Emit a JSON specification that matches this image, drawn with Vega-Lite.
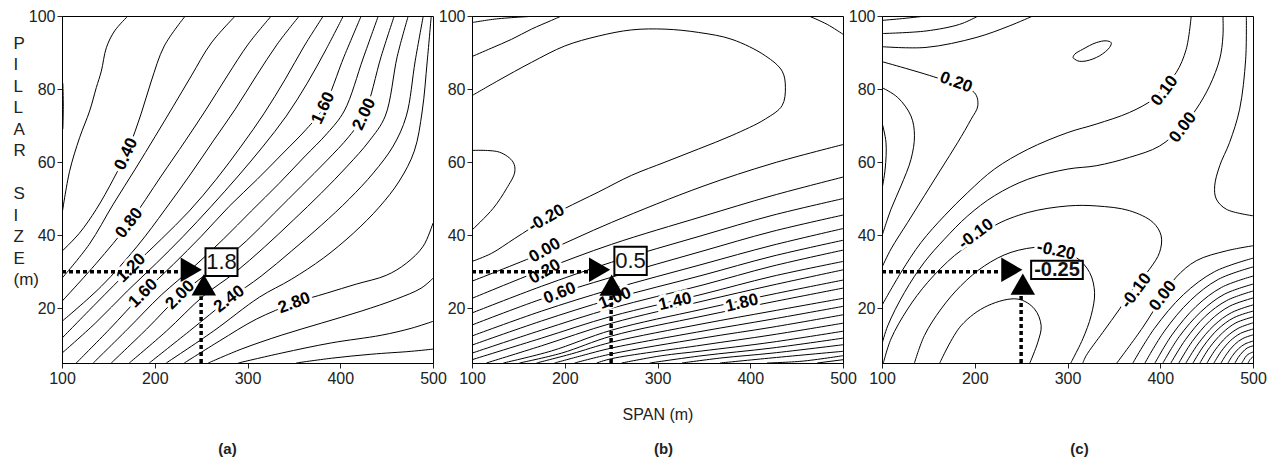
{
"$schema":"https://vega.github.io/schema/vega-lite/v6.json",
"background":"white",
"padding":{"left":12,"top":7,"right":4,"bottom":2},
"bounds":"flush",
"spacing":39,
"config":{
  "font":"Liberation Sans",
  "view":{"stroke":"#000","strokeWidth":1},
  "axis":{"labelFont":"Liberation Sans","labelFontSize":16,"labelColor":"#222","tickColor":"#222","tickSize":5,"domainColor":"#000","labelPadding":2,"grid":false,"labelFlush":false,"labelOverlap":false,"titleFont":"Liberation Sans","titleFontSize":16,"titleFontWeight":"normal","titleColor":"#222"},
  "title":{"font":"Liberation Sans","fontSize":15,"fontWeight":"bold","color":"#222"},
  "text":{"fontSize":17,"fontWeight":"bold"}
},
"datasets":{
"ca":[
{"c":"a0","v":0,"x":100.9,"y":81.6},{"c":"a0","v":0,"x":101.4,"y":75.3},{"c":"a0","v":0,"x":100.9,"y":69},
{"c":"a1","v":0.2,"x":171.1,"y":100},{"c":"a1","v":0.2,"x":156.7,"y":95.9},{"c":"a1","v":0.2,"x":147.8,"y":91.3},{"c":"a1","v":0.2,"x":142.4,"y":84.9},{"c":"a1","v":0.2,"x":137,"y":80.4},{"c":"a1","v":0.2,"x":129.8,"y":74},{"c":"a1","v":0.2,"x":119,"y":66.7},{"c":"a1","v":0.2,"x":108.2,"y":57.5},{"c":"a1","v":0.2,"x":100,"y":45.7},
{"c":"a2","v":0.4,"x":232.9,"y":100},{"c":"a2","v":0.4,"x":210.3,"y":91.8},{"c":"a2","v":0.4,"x":196.3,"y":82.2},{"c":"a2","v":0.4,"x":185.5,"y":73.4},{"c":"a2","v":0.4,"x":171.5,"y":63.6},{"c":"a2","v":0.4,"x":155.3,"y":55.3},{"c":"a2","v":0.4,"x":137,"y":47.1},{"c":"a2","v":0.4,"x":118.6,"y":40.5},{"c":"a2","v":0.4,"x":100,"y":35.6},
{"c":"a3","v":0.6,"x":286.8,"y":100},{"c":"a3","v":0.6,"x":260.9,"y":92.6},{"c":"a3","v":0.6,"x":239.4,"y":83.6},{"c":"a3","v":0.6,"x":220,"y":75.3},{"c":"a3","v":0.6,"x":200.6,"y":67.1},{"c":"a3","v":0.6,"x":179,"y":58.1},{"c":"a3","v":0.6,"x":155.3,"y":48.5},{"c":"a3","v":0.6,"x":129.4,"y":37.5},{"c":"a3","v":0.6,"x":100,"y":28.2},
{"c":"a4","v":0.8,"x":325.6,"y":100},{"c":"a4","v":0.8,"x":300.8,"y":92.3},{"c":"a4","v":0.8,"x":278.2,"y":83.6},{"c":"a4","v":0.8,"x":255.6,"y":74.5},{"c":"a4","v":0.8,"x":232.9,"y":65.8},{"c":"a4","v":0.8,"x":207,"y":56.2},{"c":"a4","v":0.8,"x":172.5,"y":43.3},{"c":"a4","v":0.8,"x":137,"y":32.3},{"c":"a4","v":0.8,"x":100,"y":21.9},
{"c":"a5","v":1.0,"x":355.8,"y":100},{"c":"a5","v":1.0,"x":332.1,"y":92.3},{"c":"a5","v":1.0,"x":309.5,"y":83.6},{"c":"a5","v":1.0,"x":286.8,"y":74.5},{"c":"a5","v":1.0,"x":263.1,"y":65.8},{"c":"a5","v":1.0,"x":239.4,"y":57},{"c":"a5","v":1.0,"x":211.4,"y":47.1},{"c":"a5","v":1.0,"x":181.2,"y":37},{"c":"a5","v":1.0,"x":142.4,"y":26},{"c":"a5","v":1.0,"x":100,"y":16.4},
{"c":"a6","v":1.2,"x":381.7,"y":100},{"c":"a6","v":1.2,"x":361.2,"y":91.8},{"c":"a6","v":1.2,"x":340.7,"y":82.7},{"c":"a6","v":1.2,"x":318.1,"y":73.4},{"c":"a6","v":1.2,"x":293.3,"y":64.4},{"c":"a6","v":1.2,"x":266.3,"y":55.3},{"c":"a6","v":1.2,"x":237.2,"y":46.6},{"c":"a6","v":1.2,"x":207,"y":38.9},{"c":"a6","v":1.2,"x":174.7,"y":31},{"c":"a6","v":1.2,"x":137,"y":21.4},{"c":"a6","v":1.2,"x":100,"y":11.8},
{"c":"a7","v":1.4,"x":403.3,"y":100},{"c":"a7","v":1.4,"x":385,"y":91},{"c":"a7","v":1.4,"x":364.4,"y":81.6},{"c":"a7","v":1.4,"x":341.8,"y":72.6},{"c":"a7","v":1.4,"x":317,"y":64.4},{"c":"a7","v":1.4,"x":290,"y":56.2},{"c":"a7","v":1.4,"x":260.9,"y":47.9},{"c":"a7","v":1.4,"x":230.8,"y":39.7},{"c":"a7","v":1.4,"x":201.7,"y":32.3},{"c":"a7","v":1.4,"x":170.4,"y":24.7},{"c":"a7","v":1.4,"x":135.9,"y":15.9},{"c":"a7","v":1.4,"x":100,"y":7.7},
{"c":"a8","v":1.6,"x":422.6,"y":100},{"c":"a8","v":1.6,"x":404.3,"y":89},{"c":"a8","v":1.6,"x":381.7,"y":74.8},{"c":"a8","v":1.6,"x":363.4,"y":69},{"c":"a8","v":1.6,"x":338.5,"y":62.5},{"c":"a8","v":1.6,"x":310.5,"y":55.3},{"c":"a8","v":1.6,"x":280.3,"y":47.9},{"c":"a8","v":1.6,"x":250.2,"y":39.7},{"c":"a8","v":1.6,"x":220,"y":32},{"c":"a8","v":1.6,"x":187.6,"y":24.1},{"c":"a8","v":1.6,"x":151,"y":14.2},{"c":"a8","v":1.6,"x":115.4,"y":5},
{"c":"a9","v":1.8,"x":441,"y":100},{"c":"a9","v":1.8,"x":424.8,"y":88.5},{"c":"a9","v":1.8,"x":404.3,"y":74},{"c":"a9","v":1.8,"x":386,"y":67.9},{"c":"a9","v":1.8,"x":361.2,"y":61.4},{"c":"a9","v":1.8,"x":334.2,"y":54.2},{"c":"a9","v":1.8,"x":304.1,"y":46.6},{"c":"a9","v":1.8,"x":273.9,"y":38.9},{"c":"a9","v":1.8,"x":241.5,"y":31.2},{"c":"a9","v":1.8,"x":207,"y":23.6},{"c":"a9","v":1.8,"x":170.4,"y":14.2},{"c":"a9","v":1.8,"x":133.7,"y":5},
{"c":"a10","v":2.0,"x":458.2,"y":100},{"c":"a10","v":2.0,"x":444.2,"y":89},{"c":"a10","v":2.0,"x":425.9,"y":73.1},{"c":"a10","v":2.0,"x":409.7,"y":67.1},{"c":"a10","v":2.0,"x":385,"y":60.3},{"c":"a10","v":2.0,"x":358,"y":53.4},{"c":"a10","v":2.0,"x":328.8,"y":46},{"c":"a10","v":2.0,"x":298.7,"y":38.4},{"c":"a10","v":2.0,"x":266.3,"y":31.5},{"c":"a10","v":2.0,"x":227.5,"y":23.6},{"c":"a10","v":2.0,"x":190.9,"y":14.2},{"c":"a10","v":2.0,"x":153.1,"y":5},
{"c":"a11","v":2.2,"x":473.3,"y":100},{"c":"a11","v":2.2,"x":461.5,"y":89},{"c":"a11","v":2.2,"x":448.5,"y":72.6},{"c":"a11","v":2.2,"x":431.3,"y":65.8},{"c":"a11","v":2.2,"x":407.6,"y":58.9},{"c":"a11","v":2.2,"x":379.5,"y":51.5},{"c":"a11","v":2.2,"x":349.3,"y":44.1},{"c":"a11","v":2.2,"x":318.1,"y":36.7},{"c":"a11","v":2.2,"x":285.7,"y":29.6},{"c":"a11","v":2.2,"x":252.3,"y":23.3},{"c":"a11","v":2.2,"x":212.4,"y":13.7},{"c":"a11","v":2.2,"x":172.5,"y":5},
{"c":"a12","v":2.4,"x":489.5,"y":100},{"c":"a12","v":2.4,"x":480.8,"y":87.7},{"c":"a12","v":2.4,"x":471.2,"y":72.6},{"c":"a12","v":2.4,"x":457.1,"y":64.4},{"c":"a12","v":2.4,"x":435.6,"y":57},{"c":"a12","v":2.4,"x":409.7,"y":49.9},{"c":"a12","v":2.4,"x":379.5,"y":42.7},{"c":"a12","v":2.4,"x":347.2,"y":35.6},{"c":"a12","v":2.4,"x":314.8,"y":28.8},{"c":"a12","v":2.4,"x":280.3,"y":22.5},{"c":"a12","v":2.4,"x":237.2,"y":13.7},{"c":"a12","v":2.4,"x":194.1,"y":5},
{"c":"a13","v":2.6,"x":498.1,"y":100},{"c":"a13","v":2.6,"x":493.8,"y":87.7},{"c":"a13","v":2.6,"x":488.4,"y":74},{"c":"a13","v":2.6,"x":479.8,"y":63},{"c":"a13","v":2.6,"x":463.6,"y":54.8},{"c":"a13","v":2.6,"x":442.1,"y":47.7},{"c":"a13","v":2.6,"x":414,"y":40.5},{"c":"a13","v":2.6,"x":381.7,"y":33.7},{"c":"a13","v":2.6,"x":347.2,"y":27.9},{"c":"a13","v":2.6,"x":312.7,"y":23},{"c":"a13","v":2.6,"x":263.1,"y":13.7},{"c":"a13","v":2.6,"x":212.4,"y":5},
{"c":"a14","v":2.8,"x":500,"y":43.3},{"c":"a14","v":2.8,"x":489.5,"y":37},{"c":"a14","v":2.8,"x":471.2,"y":32.3},{"c":"a14","v":2.8,"x":449.6,"y":29},{"c":"a14","v":2.8,"x":417.3,"y":26.6},{"c":"a14","v":2.8,"x":385,"y":24.1},{"c":"a14","v":2.8,"x":350.4,"y":21.4},{"c":"a14","v":2.8,"x":309.5,"y":17},{"c":"a14","v":2.8,"x":269.6,"y":11},{"c":"a14","v":2.8,"x":231.8,"y":5},
{"c":"a15","v":3.0,"x":257.7,"y":5},{"c":"a15","v":3.0,"x":293.3,"y":8.8},{"c":"a15","v":3.0,"x":336.4,"y":12.6},{"c":"a15","v":3.0,"x":379.5,"y":15.9},{"c":"a15","v":3.0,"x":422.6,"y":19.2},{"c":"a15","v":3.0,"x":460.4,"y":22.5},{"c":"a15","v":3.0,"x":487.3,"y":25.5},{"c":"a15","v":3.0,"x":500,"y":28.2},
{"c":"a16","v":3.2,"x":290,"y":5},{"c":"a16","v":3.2,"x":336.4,"y":7.7},{"c":"a16","v":3.2,"x":390.3,"y":10.5},{"c":"a16","v":3.2,"x":444.2,"y":12.6},{"c":"a16","v":3.2,"x":476.5,"y":14.5},{"c":"a16","v":3.2,"x":500,"y":16.4},
{"c":"a17","v":3.4,"x":352.5,"y":5},{"c":"a17","v":3.4,"x":390.3,"y":6.3},{"c":"a17","v":3.4,"x":433.4,"y":7.4},{"c":"a17","v":3.4,"x":476.5,"y":8.2},{"c":"a17","v":3.4,"x":500,"y":8.8}
],
"cb":[
{"c":"bt2","v":0.2,"x":100,"y":98.2},{"c":"bt2","v":0.2,"x":126.3,"y":99.2},{"c":"bt2","v":0.2,"x":171.3,"y":100},
{"c":"bt0","v":0,"x":100,"y":88.9},{"c":"bt0","v":0,"x":120.9,"y":91.2},{"c":"bt0","v":0,"x":142.5,"y":93.6},{"c":"bt0","v":0,"x":164.1,"y":96.4},{"c":"bt0","v":0,"x":185.7,"y":98.8},{"c":"bt0","v":0,"x":196.5,"y":100},
{"c":"btr","v":0,"x":463.2,"y":100},{"c":"btr","v":0,"x":483,"y":97.7},{"c":"btr","v":0,"x":500,"y":95},
{"c":"bm2","v":-0.2,"x":100,"y":32.8},{"c":"bm2","v":-0.2,"x":120.9,"y":35},{"c":"bm2","v":-0.2,"x":146.1,"y":39.1},{"c":"bm2","v":-0.2,"x":180.3,"y":44.6},{"c":"bm2","v":-0.2,"x":200.1,"y":47.3},{"c":"bm2","v":-0.2,"x":236.2,"y":51.8},{"c":"bm2","v":-0.2,"x":272.2,"y":56.4},{"c":"bm2","v":-0.2,"x":308.2,"y":60},{"c":"bm2","v":-0.2,"x":344.3,"y":63.6},{"c":"bm2","v":-0.2,"x":380.3,"y":67.3},{"c":"bm2","v":-0.2,"x":416.3,"y":71.8},{"c":"bm2","v":-0.2,"x":434.4,"y":75.5},{"c":"bm2","v":-0.2,"x":437.9,"y":80.5},{"c":"bm2","v":-0.2,"x":434.4,"y":84.9},{"c":"bm2","v":-0.2,"x":416.3,"y":89.1},{"c":"bm2","v":-0.2,"x":380.3,"y":93.6},{"c":"bm2","v":-0.2,"x":344.3,"y":95.5},{"c":"bm2","v":-0.2,"x":308.2,"y":96.4},{"c":"bm2","v":-0.2,"x":272.2,"y":96.2},{"c":"bm2","v":-0.2,"x":236.2,"y":94.5},{"c":"bm2","v":-0.2,"x":200.1,"y":91.8},{"c":"bm2","v":-0.2,"x":164.1,"y":87.3},{"c":"bm2","v":-0.2,"x":128.1,"y":82.3},{"c":"bm2","v":-0.2,"x":100,"y":78.2},
{"c":"bm4","v":-0.4,"x":100,"y":63.2},{"c":"bm4","v":-0.4,"x":129.8,"y":62.7},{"c":"bm4","v":-0.4,"x":144.3,"y":60},{"c":"bm4","v":-0.4,"x":146.1,"y":57.3},{"c":"bm4","v":-0.4,"x":137.1,"y":52.7},{"c":"bm4","v":-0.4,"x":122.7,"y":47.3},{"c":"bm4","v":-0.4,"x":100,"y":41.4},
{"c":"b00","v":0,"x":100,"y":27.4},{"c":"b00","v":0,"x":174.9,"y":35},{"c":"b00","v":0,"x":250.6,"y":43.5},{"c":"b00","v":0,"x":348,"y":53.3},{"c":"b00","v":0,"x":423.5,"y":59.6},{"c":"b00","v":0,"x":500,"y":64.8},
{"c":"b02","v":0.2,"x":100,"y":22.7},{"c":"b02","v":0.2,"x":174.9,"y":30.4},{"c":"b02","v":0.2,"x":250.6,"y":37.5},{"c":"b02","v":0.2,"x":348,"y":45.1},{"c":"b02","v":0.2,"x":423.5,"y":50.8},{"c":"b02","v":0.2,"x":500,"y":55.9},
{"c":"b04","v":0.4,"x":100,"y":18.7},{"c":"b04","v":0.4,"x":174.9,"y":26},{"c":"b04","v":0.4,"x":250.6,"y":32.6},{"c":"b04","v":0.4,"x":348,"y":39.9},{"c":"b04","v":0.4,"x":423.5,"y":45.4},{"c":"b04","v":0.4,"x":500,"y":50},
{"c":"b06","v":0.6,"x":100,"y":15.4},{"c":"b06","v":0.6,"x":174.9,"y":22.5},{"c":"b06","v":0.6,"x":250.6,"y":28.5},{"c":"b06","v":0.6,"x":348,"y":35.6},{"c":"b06","v":0.6,"x":423.5,"y":41},{"c":"b06","v":0.6,"x":500,"y":45.5},
{"c":"b08","v":0.8,"x":100,"y":12.4},{"c":"b08","v":0.8,"x":174.9,"y":19.2},{"c":"b08","v":0.8,"x":250.6,"y":25.2},{"c":"b08","v":0.8,"x":348,"y":32},{"c":"b08","v":0.8,"x":423.5,"y":37.2},{"c":"b08","v":0.8,"x":500,"y":41.8},
{"c":"b10","v":1.0,"x":100,"y":9.9},{"c":"b10","v":1.0,"x":174.9,"y":16.5},{"c":"b10","v":1.0,"x":250.6,"y":22.5},{"c":"b10","v":1.0,"x":348,"y":29},{"c":"b10","v":1.0,"x":423.5,"y":34.2},{"c":"b10","v":1.0,"x":500,"y":38.6},
{"c":"b12","v":1.2,"x":100,"y":7.7},{"c":"b12","v":1.2,"x":174.9,"y":14},{"c":"b12","v":1.2,"x":250.6,"y":20},{"c":"b12","v":1.2,"x":348,"y":26.3},{"c":"b12","v":1.2,"x":423.5,"y":31.5},{"c":"b12","v":1.2,"x":500,"y":35.9},
{"c":"b14","v":1.4,"x":100,"y":5.9},{"c":"b14","v":1.4,"x":174.9,"y":11.8},{"c":"b14","v":1.4,"x":250.6,"y":17.8},{"c":"b14","v":1.4,"x":348,"y":23.8},{"c":"b14","v":1.4,"x":423.5,"y":28.7},{"c":"b14","v":1.4,"x":500,"y":32.8},
{"c":"b16","v":1.6,"x":115.5,"y":5},{"c":"b16","v":1.6,"x":174.9,"y":9.7},{"c":"b16","v":1.6,"x":250.6,"y":15.9},{"c":"b16","v":1.6,"x":348,"y":21.9},{"c":"b16","v":1.6,"x":423.5,"y":26.3},{"c":"b16","v":1.6,"x":500,"y":30.5},
{"c":"b18","v":1.8,"x":133.8,"y":5},{"c":"b18","v":1.8,"x":185.7,"y":8.3},{"c":"b18","v":1.8,"x":250.6,"y":14},{"c":"b18","v":1.8,"x":348,"y":19.7},{"c":"b18","v":1.8,"x":423.5,"y":23.8},{"c":"b18","v":1.8,"x":500,"y":27.7},
{"c":"b20","v":2.0,"x":151.1,"y":5},{"c":"b20","v":2.0,"x":196.5,"y":7.7},{"c":"b20","v":2.0,"x":250.6,"y":12.4},{"c":"b20","v":2.0,"x":348,"y":17.8},{"c":"b20","v":2.0,"x":423.5,"y":21.7},{"c":"b20","v":2.0,"x":500,"y":25.5},
{"c":"b22","v":2.2,"x":169.5,"y":5},{"c":"b22","v":2.2,"x":207.3,"y":7.5},{"c":"b22","v":2.2,"x":250.6,"y":10.7},{"c":"b22","v":2.2,"x":348,"y":15.7},{"c":"b22","v":2.2,"x":423.5,"y":19.2},{"c":"b22","v":2.2,"x":500,"y":22.7},
{"c":"b24","v":2.4,"x":189,"y":5},{"c":"b24","v":2.4,"x":218.2,"y":7},{"c":"b24","v":2.4,"x":250.6,"y":9.1},{"c":"b24","v":2.4,"x":348,"y":13.7},{"c":"b24","v":2.4,"x":423.5,"y":17},{"c":"b24","v":2.4,"x":500,"y":20.5},
{"c":"b26","v":2.6,"x":210.6,"y":5},{"c":"b26","v":2.6,"x":250.6,"y":7.5},{"c":"b26","v":2.6,"x":348,"y":11.8},{"c":"b26","v":2.6,"x":423.5,"y":14.8},{"c":"b26","v":2.6,"x":500,"y":18.2},
{"c":"b28","v":2.8,"x":234.4,"y":5},{"c":"b28","v":2.8,"x":250.6,"y":6.2},{"c":"b28","v":2.8,"x":348,"y":9.9},{"c":"b28","v":2.8,"x":423.5,"y":12.7},{"c":"b28","v":2.8,"x":500,"y":15.9},
{"c":"b30","v":3.0,"x":261.4,"y":5},{"c":"b30","v":3.0,"x":304.6,"y":7},{"c":"b30","v":3.0,"x":348,"y":8.3},{"c":"b30","v":3.0,"x":423.5,"y":10.7},{"c":"b30","v":3.0,"x":500,"y":13.7},
{"c":"b32","v":3.2,"x":291.7,"y":5},{"c":"b32","v":3.2,"x":348,"y":7},{"c":"b32","v":3.2,"x":423.5,"y":9.1},{"c":"b32","v":3.2,"x":500,"y":11.8},
{"c":"b34","v":3.4,"x":326.3,"y":5},{"c":"b34","v":3.4,"x":369.5,"y":6.4},{"c":"b34","v":3.4,"x":423.5,"y":7.7},{"c":"b34","v":3.4,"x":500,"y":10},
{"c":"b36","v":3.6,"x":367.4,"y":5},{"c":"b36","v":3.6,"x":423.5,"y":6.4},{"c":"b36","v":3.6,"x":500,"y":8.2},
{"c":"b38","v":3.8,"x":418.1,"y":5},{"c":"b38","v":3.8,"x":456,"y":5.5},{"c":"b38","v":3.8,"x":500,"y":7},
{"c":"b40","v":4.0,"x":472.2,"y":5},{"c":"b40","v":4.0,"x":500,"y":5.9}
],
"cc":[
{"c":"ct1","v":0.4,"x":100,"y":98.8},{"c":"ct1","v":0.4,"x":122.3,"y":99.3},{"c":"ct1","v":0.4,"x":147.5,"y":100},
{"c":"ct2","v":0.3,"x":100,"y":95.2},{"c":"ct2","v":0.3,"x":147.5,"y":95.9},{"c":"ct2","v":0.3,"x":183.5,"y":97.7},{"c":"ct2","v":0.3,"x":201.4,"y":99.7},{"c":"ct2","v":0.3,"x":203.5,"y":100},
{"c":"ct3","v":0.2,"x":100,"y":91.6},{"c":"ct3","v":0.2,"x":147.5,"y":91.4},{"c":"ct3","v":0.2,"x":201.4,"y":94.1},{"c":"ct3","v":0.2,"x":237.5,"y":97.3},{"c":"ct3","v":0.2,"x":262.6,"y":100},
{"c":"ca","v":0.2,"x":100,"y":87.5},{"c":"ca","v":0.2,"x":163.7,"y":82.7},{"c":"ca","v":0.2,"x":199.7,"y":79},{"c":"ca","v":0.2,"x":203.3,"y":75.4},{"c":"ca","v":0.2,"x":196,"y":71.7},{"c":"ca","v":0.2,"x":181.7,"y":65.4},{"c":"ca","v":0.2,"x":163.7,"y":58.1},{"c":"ca","v":0.2,"x":145.7,"y":50.8},{"c":"ca","v":0.2,"x":127.7,"y":43.5},{"c":"ca","v":0.2,"x":109.7,"y":36.2},{"c":"ca","v":0.2,"x":100,"y":31.2},
{"c":"cb","v":0.3,"x":100,"y":80.4},{"c":"cb","v":0.3,"x":116.9,"y":77.7},{"c":"cb","v":0.3,"x":131.3,"y":72.6},{"c":"cb","v":0.3,"x":135,"y":67.2},{"c":"cb","v":0.3,"x":131.3,"y":60.8},{"c":"cb","v":0.3,"x":120.5,"y":53.5},{"c":"cb","v":0.3,"x":109.7,"y":47.1},{"c":"cb","v":0.3,"x":100,"y":39.8},
{"c":"cq","v":0.4,"x":100,"y":70.8},{"c":"cq","v":0.4,"x":104.3,"y":65.4},{"c":"cq","v":0.4,"x":103.4,"y":58.1},{"c":"cq","v":0.4,"x":100,"y":52.6},
{"c":"cel","v":0.2,"x":305.8,"y":88.6},{"c":"cel","v":0.2,"x":311.2,"y":87.7},{"c":"cel","v":0.2,"x":320.1,"y":87.7},{"c":"cel","v":0.2,"x":334.6,"y":89.1},{"c":"cel","v":0.2,"x":345.4,"y":91.4},{"c":"cel","v":0.2,"x":347.1,"y":92.7},{"c":"cel","v":0.2,"x":341.7,"y":93.2},{"c":"cel","v":0.2,"x":330.9,"y":92.7},{"c":"cel","v":0.2,"x":316.5,"y":90.9},{"c":"cel","v":0.2,"x":307.6,"y":89.5},{"c":"cel","v":0.2,"x":305.8,"y":88.6},
{"c":"cd","v":0.1,"x":100,"y":20.8},{"c":"cd","v":0.1,"x":120.5,"y":29.8},{"c":"cd","v":0.1,"x":142.1,"y":38},{"c":"cd","v":0.1,"x":167.3,"y":45.3},{"c":"cd","v":0.1,"x":192.5,"y":51.7},{"c":"cd","v":0.1,"x":221.3,"y":58.1},{"c":"cd","v":0.1,"x":257.2,"y":63.5},{"c":"cd","v":0.1,"x":300.4,"y":68.1},{"c":"cd","v":0.1,"x":330.9,"y":70.4},{"c":"cd","v":0.1,"x":366.9,"y":73.6},{"c":"cd","v":0.1,"x":392.1,"y":77.2},{"c":"cd","v":0.1,"x":402.9,"y":80.4},{"c":"cd","v":0.1,"x":417.2,"y":84.5},{"c":"cd","v":0.1,"x":428,"y":90.9},{"c":"cd","v":0.1,"x":433.4,"y":100},
{"c":"ce","v":0,"x":100,"y":10.2},{"c":"ce","v":0,"x":106.2,"y":15.2},{"c":"ce","v":0,"x":124.2,"y":24.3},{"c":"ce","v":0,"x":145.7,"y":32.6},{"c":"ce","v":0,"x":167.3,"y":38.9},{"c":"ce","v":0,"x":192.5,"y":45.3},{"c":"ce","v":0,"x":221.3,"y":50.8},{"c":"ce","v":0,"x":257.2,"y":55.3},{"c":"ce","v":0,"x":300.4,"y":58.1},{"c":"ce","v":0,"x":330.9,"y":59},{"c":"ce","v":0,"x":366.9,"y":61.3},{"c":"ce","v":0,"x":399.3,"y":64.4},{"c":"ce","v":0,"x":424.5,"y":69.9},{"c":"ce","v":0,"x":438.8,"y":74.5},{"c":"ce","v":0,"x":453.3,"y":80.9},{"c":"ce","v":0,"x":464.1,"y":88.2},{"c":"ce","v":0,"x":467.6,"y":94.5},{"c":"ce","v":0,"x":467.6,"y":100},
{"c":"cf","v":-0.1,"x":101.5,"y":5},{"c":"cf","v":-0.1,"x":109.7,"y":11.6},{"c":"cf","v":-0.1,"x":127.7,"y":19.8},{"c":"cf","v":-0.1,"x":149.3,"y":27.1},{"c":"cf","v":-0.1,"x":178.1,"y":34.4},{"c":"cf","v":-0.1,"x":203.3,"y":38.9},{"c":"cf","v":-0.1,"x":221.3,"y":42.6},{"c":"cf","v":-0.1,"x":257.2,"y":46.2},{"c":"cf","v":-0.1,"x":300.4,"y":48},{"c":"cf","v":-0.1,"x":330.9,"y":48},{"c":"cf","v":-0.1,"x":366.9,"y":46.7},{"c":"cf","v":-0.1,"x":392.1,"y":43.5},{"c":"cf","v":-0.1,"x":401,"y":39.8},{"c":"cf","v":-0.1,"x":399.3,"y":35.3},{"c":"cf","v":-0.1,"x":388.5,"y":30.7},{"c":"cf","v":-0.1,"x":370.5,"y":25.3},{"c":"cf","v":-0.1,"x":356.2,"y":19.8},{"c":"cf","v":-0.1,"x":338.1,"y":13.4},{"c":"cf","v":-0.1,"x":320.1,"y":7},{"c":"cf","v":-0.1,"x":316.5,"y":5},
{"c":"cg","v":-0.2,"x":135,"y":5},{"c":"cg","v":-0.2,"x":145.7,"y":12.5},{"c":"cg","v":-0.2,"x":163.7,"y":19.8},{"c":"cg","v":-0.2,"x":185.2,"y":26.2},{"c":"cg","v":-0.2,"x":210.5,"y":31.6},{"c":"cg","v":-0.2,"x":239.2,"y":35.3},{"c":"cg","v":-0.2,"x":271.6,"y":36.7},{"c":"cg","v":-0.2,"x":287.7,"y":35.7},{"c":"cg","v":-0.2,"x":309.3,"y":33.9},{"c":"cg","v":-0.2,"x":323.8,"y":29.8},{"c":"cg","v":-0.2,"x":329.2,"y":24.3},{"c":"cg","v":-0.2,"x":325.5,"y":18},{"c":"cg","v":-0.2,"x":316.5,"y":11.6},{"c":"cg","v":-0.2,"x":305.8,"y":6.1},{"c":"cg","v":-0.2,"x":303.6,"y":5},
{"c":"ch","v":-0.3,"x":162.3,"y":5},{"c":"ch","v":-0.3,"x":185.2,"y":15.2},{"c":"ch","v":-0.3,"x":214.1,"y":20.7},{"c":"ch","v":-0.3,"x":246.4,"y":22.5},{"c":"ch","v":-0.3,"x":264.4,"y":19.8},{"c":"ch","v":-0.3,"x":271.6,"y":15.2},{"c":"ch","v":-0.3,"x":268,"y":10.7},{"c":"ch","v":-0.3,"x":259.4,"y":5},
{"c":"crv","v":-0.1,"x":492.8,"y":100},{"c":"crv","v":-0.1,"x":492.1,"y":88.2},{"c":"crv","v":-0.1,"x":485.6,"y":74.5},{"c":"crv","v":-0.1,"x":474.8,"y":65.4},{"c":"crv","v":-0.1,"x":464.1,"y":59},{"c":"crv","v":-0.1,"x":458.7,"y":53.5},{"c":"crv","v":-0.1,"x":460.4,"y":49.9},{"c":"crv","v":-0.1,"x":471.2,"y":47.1},{"c":"crv","v":-0.1,"x":500,"y":45.3},
{"c":"cf00","v":0,"x":353.2,"y":5},{"c":"cf00","v":0,"x":381.3,"y":14.8},{"c":"cf00","v":0,"x":402.9,"y":23.4},{"c":"cf00","v":0,"x":417.2,"y":28.5},{"c":"cf00","v":0,"x":438.8,"y":33},{"c":"cf00","v":0,"x":471.2,"y":35.7},{"c":"cf00","v":0,"x":500,"y":37.1},
{"c":"cf01","v":0.1,"x":370.5,"y":5},{"c":"cf01","v":0.1,"x":393.8,"y":14.5},{"c":"cf01","v":0.1,"x":424.9,"y":23.7},{"c":"cf01","v":0.1,"x":458.5,"y":30},{"c":"cf01","v":0.1,"x":500,"y":33.7},
{"c":"cf02","v":0.2,"x":383.5,"y":5},{"c":"cf02","v":0.2,"x":404.4,"y":13.7},{"c":"cf02","v":0.2,"x":432.4,"y":22.1},{"c":"cf02","v":0.2,"x":462.6,"y":27.9},{"c":"cf02","v":0.2,"x":500,"y":31.3},
{"c":"cf03","v":0.3,"x":394.3,"y":5},{"c":"cf03","v":0.3,"x":413.2,"y":12.9},{"c":"cf03","v":0.3,"x":438.7,"y":20.5},{"c":"cf03","v":0.3,"x":466.1,"y":25.7},{"c":"cf03","v":0.3,"x":500,"y":28.8},
{"c":"cf04","v":0.4,"x":402.9,"y":5},{"c":"cf04","v":0.4,"x":420.4,"y":12.2},{"c":"cf04","v":0.4,"x":443.7,"y":19},{"c":"cf04","v":0.4,"x":468.9,"y":23.8},{"c":"cf04","v":0.4,"x":500,"y":26.6},
{"c":"cf05","v":0.5,"x":411.5,"y":5},{"c":"cf05","v":0.5,"x":427.5,"y":11.5},{"c":"cf05","v":0.5,"x":448.6,"y":17.8},{"c":"cf05","v":0.5,"x":471.7,"y":22.1},{"c":"cf05","v":0.5,"x":500,"y":24.7},
{"c":"cf06","v":0.6,"x":420.1,"y":5},{"c":"cf06","v":0.6,"x":434.5,"y":10.9},{"c":"cf06","v":0.6,"x":453.7,"y":16.6},{"c":"cf06","v":0.6,"x":474.4,"y":20.5},{"c":"cf06","v":0.6,"x":500,"y":22.8},
{"c":"cf07","v":0.7,"x":427.7,"y":5},{"c":"cf07","v":0.7,"x":440.7,"y":10.2},{"c":"cf07","v":0.7,"x":458,"y":15.3},{"c":"cf07","v":0.7,"x":476.9,"y":18.8},{"c":"cf07","v":0.7,"x":500,"y":20.9},
{"c":"cf08","v":0.8,"x":435.3,"y":5},{"c":"cf08","v":0.8,"x":446.9,"y":9.7},{"c":"cf08","v":0.8,"x":462.4,"y":14.3},{"c":"cf08","v":0.8,"x":479.3,"y":17.4},{"c":"cf08","v":0.8,"x":500,"y":19.2},
{"c":"cf09","v":0.9,"x":442.8,"y":5},{"c":"cf09","v":0.9,"x":453.1,"y":9.2},{"c":"cf09","v":0.9,"x":466.9,"y":13.2},{"c":"cf09","v":0.9,"x":481.6,"y":16},{"c":"cf09","v":0.9,"x":500,"y":17.6},
{"c":"cf10","v":1.0,"x":450.4,"y":5},{"c":"cf10","v":1.0,"x":459.3,"y":8.6},{"c":"cf10","v":1.0,"x":471.2,"y":12.1},{"c":"cf10","v":1.0,"x":484.1,"y":14.5},{"c":"cf10","v":1.0,"x":500,"y":16},
{"c":"cf11","v":1.1,"x":457.9,"y":5},{"c":"cf11","v":1.1,"x":465.5,"y":8.1},{"c":"cf11","v":1.1,"x":475.6,"y":11.1},{"c":"cf11","v":1.1,"x":486.5,"y":13.1},{"c":"cf11","v":1.1,"x":500,"y":14.3},
{"c":"cf12","v":1.2,"x":465.5,"y":5},{"c":"cf12","v":1.2,"x":471.7,"y":7.5},{"c":"cf12","v":1.2,"x":479.9,"y":10},{"c":"cf12","v":1.2,"x":489,"y":11.7},{"c":"cf12","v":1.2,"x":500,"y":12.7},
{"c":"cf13","v":1.3,"x":473,"y":5},{"c":"cf13","v":1.3,"x":477.9,"y":7},{"c":"cf13","v":1.3,"x":484.3,"y":8.9},{"c":"cf13","v":1.3,"x":491.3,"y":10.2},{"c":"cf13","v":1.3,"x":500,"y":11},
{"c":"cf14","v":1.4,"x":480.6,"y":5},{"c":"cf14","v":1.4,"x":484,"y":6.5},{"c":"cf14","v":1.4,"x":488.8,"y":8},{"c":"cf14","v":1.4,"x":493.7,"y":9.1},{"c":"cf14","v":1.4,"x":500,"y":9.7},
{"c":"cf15","v":1.5,"x":487.9,"y":5},{"c":"cf15","v":1.5,"x":490.3,"y":6},{"c":"cf15","v":1.5,"x":493,"y":7},{"c":"cf15","v":1.5,"x":496.3,"y":7.6},{"c":"cf15","v":1.5,"x":500,"y":8},
{"c":"cf16","v":1.6,"x":494.7,"y":5},{"c":"cf16","v":1.6,"x":497,"y":6},{"c":"cf16","v":1.6,"x":500,"y":6.7}
],
"la":[
{"id":"a040","t":"0.40","x":169.3,"y":62.2},{"id":"a080","t":"0.80","x":172.5,"y":43.3},{"id":"a120","t":"1.20","x":174.7,"y":31},{"id":"a160","t":"1.60","x":187.6,"y":24.1},{"id":"a200","t":"2.00","x":227.5,"y":23.6},{"id":"a240","t":"2.40","x":280.3,"y":22.5},{"id":"a280","t":"2.80","x":350.4,"y":21.4},{"id":"a160u","t":"1.60","x":381.7,"y":74.8},{"id":"a200u","t":"2.00","x":425.9,"y":73.1}
],
"lb":[
{"id":"bm020","t":"-0.20","x":180.3,"y":44.6},{"id":"b000","t":"0.00","x":178.5,"y":35.8},{"id":"b020","t":"0.20","x":178.5,"y":30},{"id":"b060","t":"0.60","x":194.7,"y":24.1},{"id":"b100","t":"1.00","x":254.2,"y":22.7},{"id":"b140","t":"1.40","x":319,"y":21.8},{"id":"b180","t":"1.80","x":391.1,"y":21.4}
],
"lc":[
{"id":"c020","t":"0.20","x":179.9,"y":81.8},{"id":"c010u","t":"0.10","x":404.7,"y":79.5},{"id":"c000u","t":"0.00","x":424.5,"y":69.5},{"id":"cm010u","t":"-0.10","x":201.4,"y":40.3},{"id":"cm020","t":"-0.20","x":287.7,"y":35.7},{"id":"cm010l","t":"-0.10","x":374.1,"y":24.8},{"id":"c000l","t":"0.00","x":402.9,"y":23.4}
],
"guides":[
{"p":"a","x":100,"x2":228.6,"y":30,"y2":30},{"p":"a","x":250,"x2":250,"y":5,"y2":23.3},
{"p":"b","x":100,"x2":227,"y":30,"y2":30},{"p":"b","x":250,"x2":250,"y":5,"y2":23.6},
{"p":"c","x":100,"x2":227,"y":30,"y2":30},{"p":"c","x":250,"x2":250,"y":5,"y2":23.4}
],
"heads":[
{"p":"a","d":"r","x":239.4,"y":30.5},{"p":"a","d":"u","x":252.9,"y":26.4},
{"p":"b","d":"r","x":237.6,"y":30.5},{"p":"b","d":"u","x":250.6,"y":26.3},
{"p":"c","d":"r","x":240,"y":30.5},{"p":"c","d":"u","x":251.8,"y":26.6}
],
"boxes":[
{"p":"a","t":"1.8","x":254.7,"x2":289.2,"y":28.8,"y2":36.4},
{"p":"b","t":"0.5","x":253.5,"x2":288.4,"y":29.1,"y2":36.8},
{"p":"c","t":"-0.25","x":260.8,"x2":316.5,"y":28,"y2":33}
]
},
"hconcat":[
{
"width":371,"height":347,
"title":{"text":"(a)","orient":"bottom","dx":-20,"offset":56},
"encoding":{
 "x":{"field":"x","type":"quantitative","scale":{"domain":[100,500],"nice":false,"zero":false},"axis":{"values":[100,200,300,400,500],"title":null}},
 "y":{"field":"y","type":"quantitative","scale":{"domain":[5,100],"nice":false,"zero":false},"axis":{"values":[20,40,60,80,100],"title":["P","I","L","L","A","R","\u2800","S","I","Z","E","(m)"],"titleAngle":0,"titleAlign":"left","titleBaseline":"top","titleX":-49,"titleY":19,"titleLineHeight":21.5,"titleFontSize":17}}
},
"layer":[
 {"data":{"name":"ca"},"transform":[{"window":[{"op":"row_number","as":"i"}],"groupby":["c"]}],"mark":{"type":"line","color":"#000","strokeWidth":1,"interpolate":"catmull-rom","clip":true},"encoding":{"detail":{"field":"c"},"order":{"field":"i","type":"quantitative"}}},
 {"data":{"name":"la"},"layer":[
  {"transform":[{"filter":{"field":"id","oneOf":["a040","a160u","a200u"]}}],"layer":[
   {"mark":{"type":"text","angle":-65,"fill":"#fff","stroke":"#fff","strokeWidth":6},"encoding":{"text":{"field":"t"}}},
   {"mark":{"type":"text","angle":-65,"fill":"#000"},"encoding":{"text":{"field":"t"}}}]},
  {"transform":[{"filter":{"field":"id","oneOf":["a080"]}}],"layer":[
   {"mark":{"type":"text","angle":-52,"fill":"#fff","stroke":"#fff","strokeWidth":6},"encoding":{"text":{"field":"t"}}},
   {"mark":{"type":"text","angle":-52,"fill":"#000"},"encoding":{"text":{"field":"t"}}}]},
  {"transform":[{"filter":{"field":"id","oneOf":["a120","a160","a200"]}}],"layer":[
   {"mark":{"type":"text","angle":-45,"fill":"#fff","stroke":"#fff","strokeWidth":6},"encoding":{"text":{"field":"t"}}},
   {"mark":{"type":"text","angle":-45,"fill":"#000"},"encoding":{"text":{"field":"t"}}}]},
  {"transform":[{"filter":{"field":"id","oneOf":["a240"]}}],"layer":[
   {"mark":{"type":"text","angle":-37,"fill":"#fff","stroke":"#fff","strokeWidth":6},"encoding":{"text":{"field":"t"}}},
   {"mark":{"type":"text","angle":-37,"fill":"#000"},"encoding":{"text":{"field":"t"}}}]},
  {"transform":[{"filter":{"field":"id","oneOf":["a280"]}}],"layer":[
   {"mark":{"type":"text","angle":-20,"fill":"#fff","stroke":"#fff","strokeWidth":6},"encoding":{"text":{"field":"t"}}},
   {"mark":{"type":"text","angle":-20,"fill":"#000"},"encoding":{"text":{"field":"t"}}}]}
 ]},
 {"data":{"name":"guides"},"transform":[{"filter":"datum.p=='a'"}],"mark":{"type":"rule","color":"#000","strokeWidth":3.5,"strokeDash":[4,3]},"encoding":{"x2":{"field":"x2"},"y2":{"field":"y2"}}},
 {"data":{"name":"heads"},"transform":[{"filter":"datum.p=='a'"}],"mark":{"type":"point","filled":true,"color":"#000","opacity":1,"size":600},"encoding":{"shape":{"field":"d","type":"nominal","scale":{"domain":["r","u"],"range":["triangle-right","triangle-up"]},"legend":null}}},
 {"data":{"name":"boxes"},"transform":[{"filter":"datum.p=='a'"}],"mark":{"type":"rect","fill":"#fff","stroke":"#000","strokeWidth":2},"encoding":{"x2":{"field":"x2"},"y2":{"field":"y2"}}},
 {"data":{"name":"boxes"},"transform":[{"filter":"datum.p=='a'"},{"calculate":"(datum.x+datum.x2)/2","as":"x"},{"calculate":"(datum.y+datum.y2)/2","as":"y"}],"mark":{"type":"text","fontSize":22,"fontWeight":"normal","fill":"#111"},"encoding":{"text":{"field":"t"}}}
]
},
{
"width":371,"height":347,
"title":{"text":"(b)","orient":"bottom","dx":6,"offset":20},
"encoding":{
 "x":{"field":"x","type":"quantitative","scale":{"domain":[100,500],"nice":false,"zero":false},"axis":{"values":[100,200,300,400,500],"title":"SPAN (m)","titlePadding":20}},
 "y":{"field":"y","type":"quantitative","scale":{"domain":[5,100],"nice":false,"zero":false},"axis":{"values":[20,40,60,80,100],"title":null}}
},
"layer":[
 {"data":{"name":"cb"},"transform":[{"window":[{"op":"row_number","as":"i"}],"groupby":["c"]}],"mark":{"type":"line","color":"#000","strokeWidth":1,"interpolate":"catmull-rom","clip":true},"encoding":{"detail":{"field":"c"},"order":{"field":"i","type":"quantitative"}}},
 {"data":{"name":"lb"},"layer":[
  {"transform":[{"filter":{"field":"id","oneOf":["bm020","b000","b020"]}}],"layer":[
   {"mark":{"type":"text","angle":-30,"fill":"#fff","stroke":"#fff","strokeWidth":6},"encoding":{"text":{"field":"t"}}},
   {"mark":{"type":"text","angle":-30,"fill":"#000"},"encoding":{"text":{"field":"t"}}}]},
  {"transform":[{"filter":{"field":"id","oneOf":["b060","b100"]}}],"layer":[
   {"mark":{"type":"text","angle":-22,"fill":"#fff","stroke":"#fff","strokeWidth":6},"encoding":{"text":{"field":"t"}}},
   {"mark":{"type":"text","angle":-22,"fill":"#000"},"encoding":{"text":{"field":"t"}}}]},
  {"transform":[{"filter":{"field":"id","oneOf":["b140","b180"]}}],"layer":[
   {"mark":{"type":"text","angle":-13,"fill":"#fff","stroke":"#fff","strokeWidth":6},"encoding":{"text":{"field":"t"}}},
   {"mark":{"type":"text","angle":-13,"fill":"#000"},"encoding":{"text":{"field":"t"}}}]}
 ]},
 {"data":{"name":"guides"},"transform":[{"filter":"datum.p=='b'"}],"mark":{"type":"rule","color":"#000","strokeWidth":3.5,"strokeDash":[4,3]},"encoding":{"x2":{"field":"x2"},"y2":{"field":"y2"}}},
 {"data":{"name":"heads"},"transform":[{"filter":"datum.p=='b'"}],"mark":{"type":"point","filled":true,"color":"#000","opacity":1,"size":600},"encoding":{"shape":{"field":"d","type":"nominal","scale":{"domain":["r","u"],"range":["triangle-right","triangle-up"]},"legend":null}}},
 {"data":{"name":"boxes"},"transform":[{"filter":"datum.p=='b'"}],"mark":{"type":"rect","fill":"#fff","stroke":"#000","strokeWidth":2},"encoding":{"x2":{"field":"x2"},"y2":{"field":"y2"}}},
 {"data":{"name":"boxes"},"transform":[{"filter":"datum.p=='b'"},{"calculate":"(datum.x+datum.x2)/2","as":"x"},{"calculate":"(datum.y+datum.y2)/2","as":"y"}],"mark":{"type":"text","fontSize":22,"fontWeight":"normal","fill":"#111"},"encoding":{"text":{"field":"t"}}}
]
},
{
"width":371,"height":347,
"title":{"text":"(c)","orient":"bottom","dx":12,"offset":56},
"encoding":{
 "x":{"field":"x","type":"quantitative","scale":{"domain":[100,500],"nice":false,"zero":false},"axis":{"values":[100,200,300,400,500],"title":null}},
 "y":{"field":"y","type":"quantitative","scale":{"domain":[5,100],"nice":false,"zero":false},"axis":{"values":[20,40,60,80,100],"title":null}}
},
"layer":[
 {"data":{"name":"cc"},"transform":[{"window":[{"op":"row_number","as":"i"}],"groupby":["c"]}],"mark":{"type":"line","color":"#000","strokeWidth":1,"interpolate":"catmull-rom","clip":true},"encoding":{"detail":{"field":"c"},"order":{"field":"i","type":"quantitative"}}},
 {"data":{"name":"lc"},"layer":[
  {"transform":[{"filter":{"field":"id","oneOf":["c020"]}}],"layer":[
   {"mark":{"type":"text","angle":20,"fill":"#fff","stroke":"#fff","strokeWidth":6},"encoding":{"text":{"field":"t"}}},
   {"mark":{"type":"text","angle":20,"fill":"#000"},"encoding":{"text":{"field":"t"}}}]},
  {"transform":[{"filter":{"field":"id","oneOf":["cm020"]}}],"layer":[
   {"mark":{"type":"text","angle":12,"fill":"#fff","stroke":"#fff","strokeWidth":6},"encoding":{"text":{"field":"t"}}},
   {"mark":{"type":"text","angle":12,"fill":"#000"},"encoding":{"text":{"field":"t"}}}]},
  {"transform":[{"filter":{"field":"id","oneOf":["c010u","c000u","cm010l","c000l"]}}],"layer":[
   {"mark":{"type":"text","angle":-53,"fill":"#fff","stroke":"#fff","strokeWidth":6},"encoding":{"text":{"field":"t"}}},
   {"mark":{"type":"text","angle":-53,"fill":"#000"},"encoding":{"text":{"field":"t"}}}]},
  {"transform":[{"filter":{"field":"id","oneOf":["cm010u"]}}],"layer":[
   {"mark":{"type":"text","angle":-37,"fill":"#fff","stroke":"#fff","strokeWidth":6},"encoding":{"text":{"field":"t"}}},
   {"mark":{"type":"text","angle":-37,"fill":"#000"},"encoding":{"text":{"field":"t"}}}]}
 ]},
 {"data":{"name":"guides"},"transform":[{"filter":"datum.p=='c'"}],"mark":{"type":"rule","color":"#000","strokeWidth":3.5,"strokeDash":[4,3]},"encoding":{"x2":{"field":"x2"},"y2":{"field":"y2"}}},
 {"data":{"name":"heads"},"transform":[{"filter":"datum.p=='c'"}],"mark":{"type":"point","filled":true,"color":"#000","opacity":1,"size":600},"encoding":{"shape":{"field":"d","type":"nominal","scale":{"domain":["r","u"],"range":["triangle-right","triangle-up"]},"legend":null}}},
 {"data":{"name":"boxes"},"transform":[{"filter":"datum.p=='c'"}],"mark":{"type":"rect","fill":"#fff","stroke":"#000","strokeWidth":2},"encoding":{"x2":{"field":"x2"},"y2":{"field":"y2"}}},
 {"data":{"name":"boxes"},"transform":[{"filter":"datum.p=='c'"},{"calculate":"(datum.x+datum.x2)/2","as":"x"},{"calculate":"(datum.y+datum.y2)/2","as":"y"}],"mark":{"type":"text","fontSize":20,"fontWeight":"bold","fill":"#111"},"encoding":{"text":{"field":"t"}}}
]
}
]
}
